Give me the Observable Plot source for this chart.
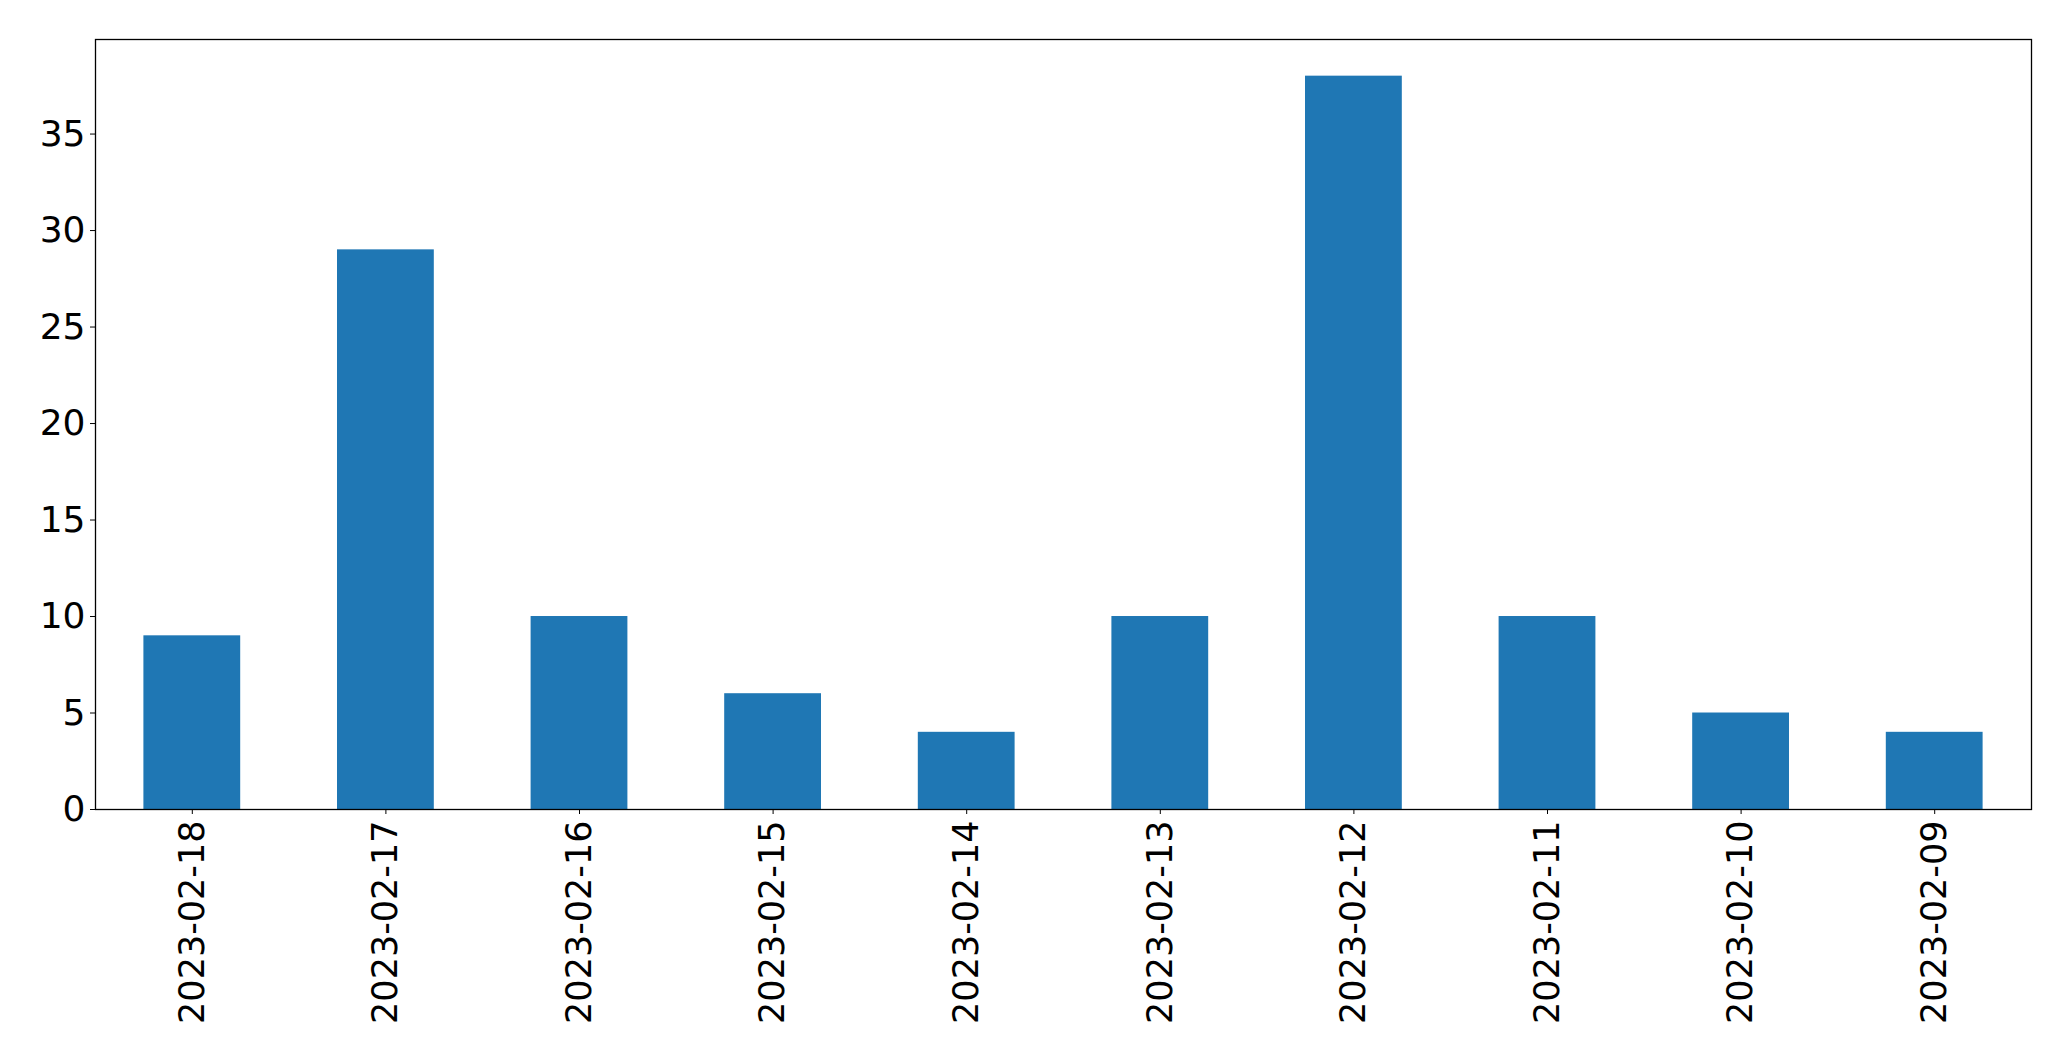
<!DOCTYPE html>
<html>
<head>
<meta charset="utf-8">
<script src="https://cdn.jsdelivr.net/npm/d3@7"></script>
<script src="https://cdn.jsdelivr.net/npm/@observablehq/plot@0.6"></script>
<style>
  html, body { margin: 0; padding: 0; background: #fff; }
  #chart svg { display: block; }
</style>
</head>
<body>
<div id="chart"></div>
<script>
const dates = ["2023-02-18","2023-02-17","2023-02-16","2023-02-15","2023-02-14","2023-02-13","2023-02-12","2023-02-11","2023-02-10","2023-02-09"];
const counts = [9, 29, 10, 6, 4, 10, 38, 10, 5, 4];
const yTicks = [0, 5, 10, 15, 20, 25, 30, 35];

const data = dates.map((d, i) => ({date: d, count: counts[i]}));

const chart = Plot.plot({
  width: 2071,
  height: 1061,
  marginLeft: 95,
  marginRight: 40,
  marginTop: 39,
  marginBottom: 252,
  style: {fontFamily: "DejaVu Sans", color: "black", background: "white"},
  x: {type: "band", domain: dates, paddingInner: 0.5, paddingOuter: 0.25, align: 0.5, round: false},
  y: {domain: [0, 39.9]},
  marks: [
    Plot.barY(data, {x: "date", y: "count", fill: "#1f77b4"}),
    Plot.frame({stroke: "black", strokeWidth: 1.3}),
    Plot.axisY({ticks: yTicks, tickSize: 5, tickPadding: 5, fontSize: 36, label: null, tickFormat: d => String(d)}),
    Plot.axisX({tickSize: 5, tickPadding: 6, fontSize: 35, tickRotate: -90, label: null})
  ]
});
document.getElementById("chart").appendChild(chart);
</script>
</body>
</html>
